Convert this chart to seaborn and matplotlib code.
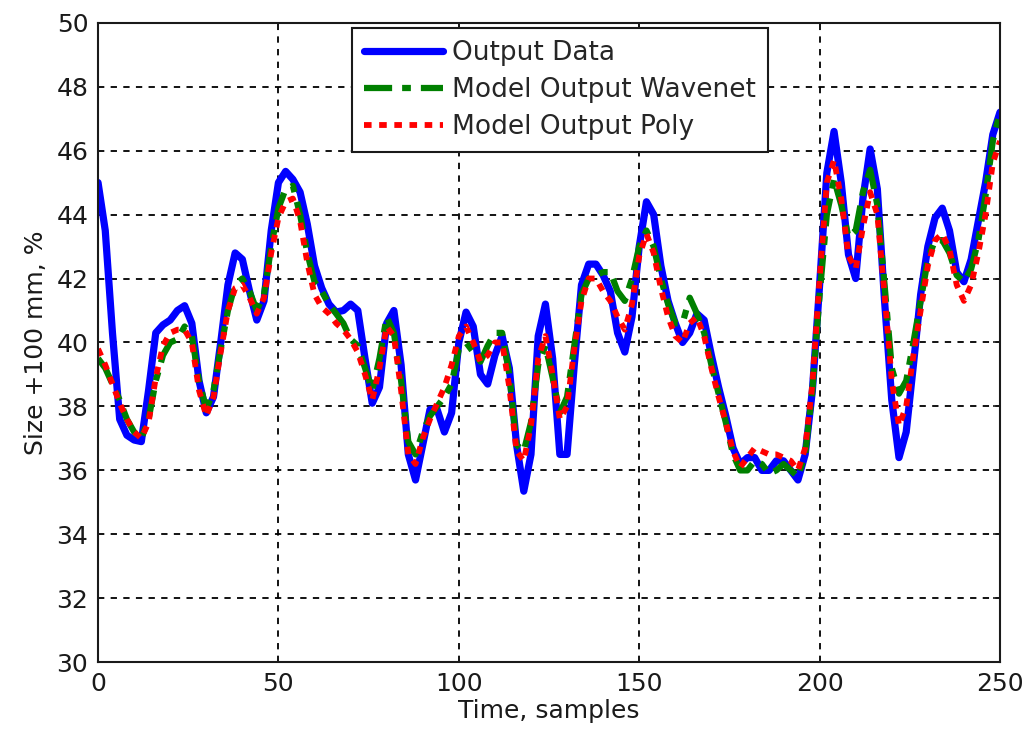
import numpy as np
import pandas as pd
import seaborn as sns
import matplotlib.pyplot as plt

# samples 0, 2, 4, ... 250
time_samples = list(range(0, 251, 2))

output_data = [
    45.0, 43.5, 40.3, 37.6, 37.1, 36.95, 36.9, 38.5, 40.3, 40.55,
    40.7, 41.0, 41.15, 40.6, 38.8, 37.8, 38.3, 40.0, 41.8, 42.8,
    42.6, 41.6, 40.7, 41.3, 43.5, 45.0, 45.35, 45.1, 44.7, 43.7,
    42.4, 41.7, 41.2, 40.95, 41.0, 41.2, 41.0, 39.5, 38.1, 38.6,
    40.6, 41.0, 39.3, 36.5, 35.7, 36.8, 37.9, 37.9, 37.2, 37.8,
    40.0, 40.95, 40.5, 39.0, 38.7, 39.6, 40.2, 39.2, 36.8, 35.35,
    36.5, 40.2, 41.2, 39.5, 36.5, 36.5, 39.3, 41.8, 42.45, 42.45,
    42.1, 41.6, 40.3, 39.7, 40.8, 43.0, 44.4, 44.0, 42.4, 41.3,
    40.6, 40.0, 40.3, 40.9, 40.7, 39.6, 38.6, 37.7, 36.7, 36.2,
    36.4, 36.4, 36.0, 36.0, 36.3, 36.3, 36.0, 35.7, 36.5, 38.5,
    41.8, 45.3, 46.6, 45.0, 42.75, 42.0, 44.5, 46.05, 44.8, 41.3,
    38.2, 36.4, 37.2, 39.3, 41.5, 43.0, 43.9, 44.2, 43.5, 42.2,
    41.9, 42.6, 43.8, 45.0, 46.5, 47.2,
]

model_wavenet = [
    39.5, 39.2, 38.7, 38.2, 37.6, 37.2, 37.0, 37.6, 38.8, 39.6,
    40.0, 40.1, 40.5, 40.2, 38.8, 37.9, 38.5, 39.8, 41.0, 41.8,
    42.0, 41.6, 41.0, 41.5, 43.0, 44.2, 44.8, 44.9, 44.0, 42.8,
    41.9, 41.6, 41.2, 40.9, 40.6, 40.1, 39.9, 39.2, 38.5, 39.5,
    40.8, 40.3, 38.8, 36.9, 36.5, 37.2, 37.7, 38.0, 38.3, 38.7,
    39.8, 40.0, 39.7, 39.4, 39.9, 40.3, 40.3, 39.0, 36.8, 36.6,
    37.5, 39.3, 39.9, 38.9, 37.8, 38.3, 39.9, 41.5, 42.0, 42.1,
    42.2, 42.2, 41.6, 41.3, 42.0, 43.0, 43.5, 43.0, 42.0, 41.2,
    40.6, 40.6, 41.4, 40.9, 40.3, 39.3, 38.4, 37.5, 36.5, 36.0,
    36.0, 36.3, 36.2, 35.9, 36.0, 36.2, 36.0, 35.8, 36.5, 38.5,
    41.5, 44.0, 45.1, 44.3, 43.3, 43.5, 44.7, 45.4, 44.3, 41.8,
    39.2, 38.4, 38.8, 40.0, 41.3, 42.6, 43.2, 43.2, 42.8, 42.1,
    41.9, 42.3, 43.2, 44.6, 46.3, 47.2,
]

model_poly = [
    39.8, 39.3, 38.7, 38.1, 37.6, 37.2, 37.0, 37.5, 38.9, 39.9,
    40.3, 40.4, 40.4, 40.0, 38.5, 37.7, 38.3, 39.7, 41.0, 41.7,
    41.8, 41.4, 40.9, 41.4, 42.8, 43.9, 44.4, 44.5, 43.8, 42.5,
    41.5, 41.1, 40.9, 40.6, 40.4, 40.1, 39.7, 39.0, 38.2, 39.2,
    40.5, 40.2, 38.5, 36.5, 36.2, 37.0, 37.6, 38.1, 38.6, 39.3,
    40.2, 40.5, 40.0, 39.4, 39.6, 40.0, 40.0, 38.6, 36.6, 36.3,
    37.4, 39.5, 40.2, 39.0, 37.6, 38.0, 39.8, 41.3, 42.0, 42.0,
    41.6, 41.3, 40.8, 40.4, 41.2, 42.7, 43.4, 42.8, 41.7, 40.8,
    40.2, 40.0, 40.6, 40.8, 40.2, 39.2, 38.3, 37.5, 36.6, 36.1,
    36.4, 36.7, 36.6, 36.5, 36.5, 36.4, 36.3, 36.0, 36.7, 38.7,
    42.0, 45.0, 45.7, 44.5, 42.7, 42.3, 43.6, 44.7, 44.0, 41.5,
    38.8, 37.4, 38.0, 39.6, 41.0, 42.4, 43.2, 43.4, 42.9, 41.8,
    41.3, 41.8, 42.8, 44.0, 45.6, 46.3,
]

x_ticks = [0, 50, 100, 150, 200, 250]
y_ticks = [30, 32, 34, 36, 38, 40, 42, 44, 46, 48, 50]


def plot_outputs():
    sns.set_style("white")
    plt.rcParams['font.family'] = ['DejaVu Sans']
    plt.rcParams['font.size'] = 18

    fig = plt.figure(figsize=(10.32, 7.31), dpi=100)
    ax = fig.add_axes([0.095, 0.094, 0.874, 0.875])

    sns.lineplot(x=time_samples, y=output_data, ax=ax, color=(0, 0, 1),
                 linewidth=5.2, label="Output Data")
    sns.lineplot(x=time_samples, y=model_wavenet, ax=ax, color=(0, 0.5, 0),
                 linewidth=4.5, label="Model Output Wavenet")
    ax.lines[-1].set_dashes((4.5, 1.6, 1.4, 1.6))
    sns.lineplot(x=time_samples, y=model_poly, ax=ax, color=(1, 0, 0),
                 linewidth=4.2, label="Model Output Poly")
    ax.lines[-1].set_dashes((1.3, 1.3))
    for ln in ax.lines:
        ln.set_solid_joinstyle('round')
        ln.set_dash_joinstyle('round')

    ax.set_xlim(0, 250)
    ax.set_ylim(30, 50)
    ax.set_xticks(x_ticks)
    ax.set_yticks(y_ticks)
    ax.grid(True, color='black', linestyle=(0, (3.5, 3.5)), linewidth=1.3)
    ax.tick_params(direction='in', length=5, width=1.2, top=True, right=True,
                   labelsize=18, pad=7, colors='#1a1a1a')
    for sp in ax.spines.values():
        sp.set_color('#1a1a1a')
        sp.set_linewidth(1.5)

    ax.set_xlabel("Time, samples", fontsize=18, labelpad=2, color='#1a1a1a')
    ax.set_ylabel("Size +100 mm, %", fontsize=18, labelpad=6, color='#1a1a1a')

    leg = ax.legend(loc='upper center', bbox_to_anchor=(0.512, 1.004),
                    fontsize=19, handlelength=3.0, labelspacing=0.42,
                    handletextpad=0.35, borderpad=0.45, borderaxespad=0.3,
                    fancybox=False, framealpha=1, edgecolor='#1a1a1a')
    leg.get_frame().set_linewidth(1.5)

    fig.savefig("out.png", dpi=100)


if __name__ == "__main__":
    plot_outputs()
